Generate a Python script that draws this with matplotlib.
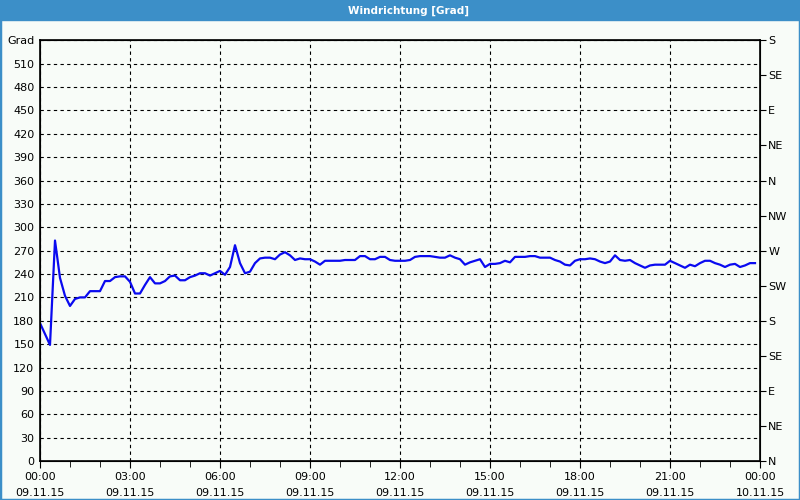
import matplotlib.pyplot as plt
import matplotlib.dates as mdates
import pandas as pd

# Windrichtung in Grad, alle 10 Minuten ab 09.11.15 00:00
richtung = [
    177, 163, 149, 283, 235, 212, 199, 208, 210, 210, 218, 218,
    218, 231, 231, 236, 237, 237, 230, 215, 215, 226, 236, 228,
    228, 231, 237, 238, 232, 232, 236, 238, 241, 241, 238, 241,
    244, 239, 249, 277, 254, 241, 243, 254, 260, 261, 261, 259,
    265, 268, 264, 258, 260, 259, 259, 256, 252, 257, 257, 257,
    257, 258, 258, 258, 263, 263, 259, 259, 262, 262, 258, 257,
    257, 257, 258, 262, 263, 263, 263, 262, 261, 261, 264, 261,
    259, 252, 255, 257, 259, 249, 253, 253, 254, 257, 255, 262,
    262, 262, 263, 263, 261, 261, 261, 258, 256, 252, 251, 257,
    259, 259, 260, 259, 256, 254, 256, 264, 258, 257, 258, 254,
    251, 248, 251, 252, 252, 252, 257, 254, 251, 248, 252, 250,
    254, 257, 257, 254, 252, 249, 252, 253, 249, 251, 254, 254,
]
zeiten = pd.date_range("2015-11-09 00:00", periods=len(richtung), freq="10min")

y_ticks = list(range(0, 541, 30))
y_labels = [str(v) for v in y_ticks[:-1]] + ["Grad"]
kompass_ticks = list(range(0, 541, 45))
kompass_labels = ["N", "NE", "E", "SE", "S", "SW", "W", "NW", "N", "NE", "E", "SE", "S"]

bg = "#f8fcf8"
blau_rahmen = "#3c8fc8"

fig = plt.figure(figsize=(8, 5), dpi=100, facecolor=bg)

# Titelleiste und Rahmen
fig.patches.append(plt.Rectangle((0, 0.96), 1, 0.04, transform=fig.transFigure,
                                 color=blau_rahmen, zorder=0))
fig.patches.append(plt.Rectangle((0, 0), 1, 1, transform=fig.transFigure,
                                 fill=False, edgecolor=blau_rahmen, linewidth=2.5))
fig.text(0.511, 0.979, "Windrichtung [Grad]", color="white", fontsize=7.5,
         fontweight="bold", ha="center", va="center")

ax = fig.add_axes([0.05, 0.078, 0.90, 0.8414])
ax.set_facecolor(bg)
ax.plot(zeiten, richtung, color="#0a0af0", linewidth=1.6)

start = pd.Timestamp("2015-11-09 00:00")
ende = pd.Timestamp("2015-11-10 00:00")
ax.set_xlim(start, ende)
ax.set_ylim(0, 540)

ax.set_yticks(y_ticks)
ax.set_yticklabels(y_labels)
ax.tick_params(axis="y", length=0, pad=4, labelsize=8)

x_ticks = pd.date_range(start, ende, freq="3h")
ax.set_xticks(x_ticks)
ax.set_xticklabels([t.strftime("%H:%M") + "\n" + t.strftime("%d.%m.%y") for t in x_ticks],
                   linespacing=1.75)
ax.xaxis.set_minor_locator(mdates.HourLocator())
ax.tick_params(axis="x", which="major", length=5, pad=3, labelsize=8)
ax.tick_params(axis="x", which="minor", length=4)

ax.grid(True, color="black", linestyle=(0, (3, 3)), linewidth=0.8)

for s in ["top", "left", "bottom", "right"]:
    ax.spines[s].set_linewidth(1.2)

ax2 = ax.twinx()
ax2.set_ylim(0, 540)
ax2.set_yticks(kompass_ticks)
ax2.set_yticklabels(kompass_labels)
ax2.tick_params(axis="y", length=4, pad=2, labelsize=8)

plt.savefig("out.png", dpi=100, facecolor=bg)
